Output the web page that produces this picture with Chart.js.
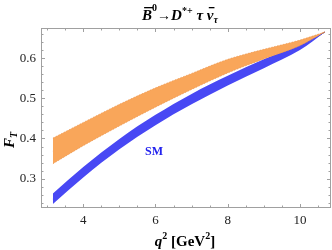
<!DOCTYPE html>
<html lang="en">
<head>
    <meta charset="UTF-8">
    <title>F_T</title>
    <script src="https://cdn.jsdelivr.net/npm/chart.js"></script>
    <style>
        html, body { margin: 0; padding: 0; background: #fff; }
        #wrap { width: 332px; height: 250px; }
    </style>
</head>
<body>
    <div id="wrap"><canvas id="graficoFT"></canvas></div>

<script>
    // valores
    const q2 = [3.16, 4, 5, 6, 7, 8, 9, 10, 10.69];
    const npUpper = [0.401, 0.440, 0.485, 0.526, 0.562, 0.597, 0.622, 0.645, 0.665];
    const npCenter = [0.369, 0.411, 0.458, 0.502, 0.542, 0.580, 0.610, 0.638, 0.665];
    const npLower = [0.337, 0.382, 0.431, 0.478, 0.522, 0.563, 0.598, 0.631, 0.665];
    const smUpper = [0.263, 0.329, 0.399, 0.459, 0.511, 0.556, 0.597, 0.634, 0.665];
    const smCenter = [0.250, 0.316, 0.386, 0.446, 0.498, 0.544, 0.586, 0.627, 0.665];
    const smLower = [0.237, 0.303, 0.373, 0.433, 0.485, 0.532, 0.575, 0.620, 0.665];
    const xTicks = [4, 6, 8, 10];
    const yTicks = [0.3, 0.4, 0.5, 0.6];

    const serif = '"Liberation Serif", "DejaVu Serif", serif';
    const pts = arr => arr.map((v, i) => ({ x: q2[i], y: v }));

    function linha(data, extra) {
        return Object.assign({
            data: pts(data),
            borderWidth: 0,
            pointRadius: 0,
            fill: false,
            cubicInterpolationMode: 'monotone'
        }, extra);
    }

    // moldura com ticks para dentro, estilo Mathematica
    const moldura = {
        id: 'moldura',
        afterDraw(chart) {
            const ctx = chart.ctx;
            const a = chart.chartArea;
            const sx = chart.scales.x, sy = chart.scales.y;
            ctx.save();
            ctx.strokeStyle = '#a0a0a0';
            ctx.lineWidth = 1;
            ctx.strokeRect(a.left + 0.5, a.top + 0.5, a.right - a.left - 1, a.bottom - a.top - 1);
            ctx.beginPath();
            for (let v = 3; v <= 10.75; v += 0.5) {
                const px = Math.round(sx.getPixelForValue(v)) + 0.5;
                const len = Number.isInteger(v) && v % 2 === 0 ? 4 : 2.5;
                ctx.moveTo(px, a.bottom); ctx.lineTo(px, a.bottom - len);
                ctx.moveTo(px, a.top); ctx.lineTo(px, a.top + len);
            }
            for (let k = 12; k <= 33; k++) {
                const v = k * 0.02;
                const py = Math.round(sy.getPixelForValue(v)) + 0.5;
                const len = k % 5 === 0 ? 4 : 2.5;
                ctx.moveTo(a.left, py); ctx.lineTo(a.left + len, py);
                ctx.moveTo(a.right, py); ctx.lineTo(a.right - len, py);
            }
            ctx.stroke();

            ctx.fillStyle = '#000';
            ctx.textBaseline = 'alphabetic';

            // titulo
            const partes = [
                { t: 'B', f: 'italic bold 15px', dy: 0, bar: true },
                { t: '0', f: 'bold 10px', dy: -9 },
                { t: '\u2192', f: 'bold 14px', dy: 0 },
                { t: 'D', f: 'italic bold 15px', dy: 0 },
                { t: '*+', f: 'bold 10px', dy: -6 },
                { t: ' \u03c4 ', f: 'italic bold 15px', dy: 0 },
                { t: '\u03bd', f: 'italic bold 15px', dy: 0, bar: true },
                { t: '\u03c4', f: 'italic bold 10px', dy: 3 }
            ];
            escrever(ctx, partes, 180, 20);

            // eixo x
            escrever(ctx, [
                { t: 'q', f: 'italic bold 15px', dy: 0 },
                { t: '2', f: 'bold 10px', dy: -7 },
                { t: ' [GeV', f: 'bold 15px', dy: 0 },
                { t: '2', f: 'bold 10px', dy: -7 },
                { t: ']', f: 'bold 15px', dy: 0 }
            ], 185, 246);

            // eixo y
            ctx.save();
            ctx.translate(14, 140);
            ctx.rotate(-Math.PI / 2);
            escrever(ctx, [
                { t: 'F', f: 'italic bold 15px', dy: 0 },
                { t: 'T', f: 'italic bold 10px', dy: 3 }
            ], 0, 0);
            ctx.restore();

            // rotulo SM
            ctx.fillStyle = '#2323ee';
            ctx.font = 'bold 12px ' + serif;
            ctx.textAlign = 'center';
            ctx.fillText('SM', 154, 155);
            ctx.restore();
        }
    };

    function escrever(ctx, partes, cx, base) {
        ctx.textAlign = 'left';
        let total = 0;
        partes.forEach(p => { ctx.font = p.f + ' ' + serif; p.w = ctx.measureText(p.t).width; total += p.w; });
        let x = cx - total / 2;
        partes.forEach(p => {
            ctx.font = p.f + ' ' + serif;
            ctx.fillText(p.t, x, base + p.dy);
            if (p.bar) {
                ctx.fillRect(x + 2, base - 13, p.w - 1, 1.3);
            }
            x += p.w;
        });
    }

    const config = {
        type: 'line',
        data: {
            datasets: [
                linha(npLower, { borderColor: '#e8914a', borderWidth: 0.6, borderDash: [1.5, 1.5] }),
                linha(npUpper, { borderColor: '#e8914a', borderWidth: 0.6, borderDash: [1.5, 1.5], fill: '-1', backgroundColor: '#f9a65a' }),
                linha(npCenter, { borderColor: '#c0703c', borderWidth: 1, borderDash: [4, 3] }),
                linha(smLower, {}),
                linha(smUpper, { fill: '-1', backgroundColor: '#4848f4' }),
                linha(smCenter, { borderColor: '#2626b8', borderWidth: 1 })
            ]
        },
        options: {
            responsive: true,
            maintainAspectRatio: false,
            animation: false,
            events: [],
            layout: { padding: { top: 28, right: 1, left: 0, bottom: 0 } },
            plugins: { legend: { display: false }, tooltip: { enabled: false } },
            scales: {
                x: {
                    type: 'linear',
                    min: 2.83,
                    max: 10.86,
                    afterBuildTicks: s => { s.ticks = xTicks.map(v => ({ value: v })); },
                    afterFit: s => { s.height = 42; },
                    grid: { display: false, drawTicks: false },
                    border: { display: false },
                    ticks: { color: '#222', padding: 5, maxRotation: 0, font: { family: serif, size: 13 } }
                },
                y: {
                    min: 0.227,
                    max: 0.675,
                    afterBuildTicks: s => { s.ticks = yTicks.map(v => ({ value: v })); },
                    afterFit: s => { s.width = 41; },
                    grid: { display: false, drawTicks: false },
                    border: { display: false },
                    ticks: { color: '#222', padding: 5, font: { family: serif, size: 13 }, callback: v => v.toFixed(1) }
                }
            }
        },
        plugins: [moldura]
    };

    const grafico = new Chart(document.getElementById('graficoFT').getContext('2d'), config);
</script>
</body>
</html>
